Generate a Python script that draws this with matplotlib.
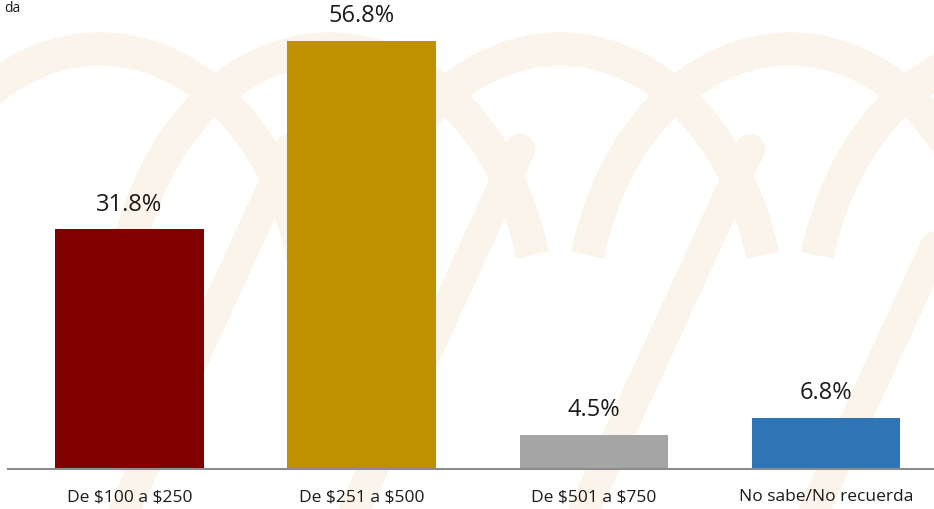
import matplotlib
matplotlib.use("Agg")
import matplotlib.pyplot as plt
from matplotlib.patches import Arc

categories = ["De \\$100 a \\$250", "De \\$251 a \\$500", "De \\$501 a \\$750", "No sabe/No recuerda"]
values = [31.8, 56.8, 4.5, 6.8]
colors = ["#800000", "#BF9000", "#A5A5A5", "#2E75B6"]

plt.rcParams['font.family'] = ['Open Sans', 'DejaVu Sans']

fig = plt.figure(figsize=(9.34, 5.10), dpi=100)
fig.patch.set_facecolor("white")

# faint decorative background watermark (beige curved strokes)
bg = fig.add_axes([0, 0, 1, 1], zorder=0)
bg.set_xlim(0, 934)
bg.set_ylim(510, 0)
bg.axis("off")
wm = "#FBF4EA"
for cx, cy, w, h in [(330, 330, 420, 560), (560, 330, 420, 560), (790, 330, 420, 560),
                     (100, 330, 420, 560), (1020, 330, 420, 560)]:
    bg.add_patch(Arc((cx, cy), w, h, theta1=200, theta2=340, lw=24, color=wm))
for x0 in [120, 350, 580, 810]:
    bg.plot([x0, x0 + 170], [520, 150], color=wm, lw=22, solid_capstyle="round")

ax = fig.add_axes([8 / 934, 40 / 510, 1 - 8 / 934, 470 / 510], zorder=1)
ax.patch.set_alpha(0)
x = list(range(len(categories)))
bars = ax.bar(x, values, width=0.64, color=colors, zorder=2)
ax.set_xlim(-0.523, 3.465)
ax.set_ylim(0, 62.4)

for xi, v in zip(x, values):
    ax.annotate(f"{v}%", (xi, v), xytext=(0, 10), textcoords="offset points",
                ha="center", va="bottom", fontsize=17, color="#1a1a1a")

ax.set_xticks(x)
ax.set_xticklabels(categories, fontsize=12.5, color="#1a1a1a")
ax.tick_params(axis="x", length=0, pad=14)
ax.set_yticks([])
for s in ["top", "right", "left"]:
    ax.spines[s].set_visible(False)
ax.spines["bottom"].set_color("#8C8C8C")
ax.spines["bottom"].set_linewidth(1.5)

fig.text(0.005, 0.998, "da", ha="left", va="top", fontsize=10, color="#1a1a1a")

fig.savefig("out.png", dpi=100)
